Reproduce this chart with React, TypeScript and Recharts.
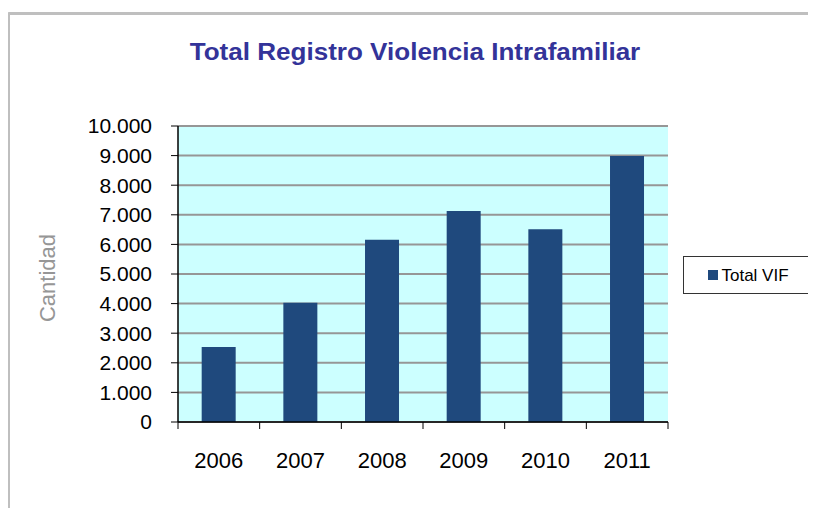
import React from "react";
import { BarChart, Bar, XAxis, YAxis, CartesianGrid } from "recharts";

// Registro VIF por año
const years = ["2006", "2007", "2008", "2009", "2010", "2011"];
const totalVif = [2530, 4030, 6160, 7130, 6510, 8990];
const yTicks = [0, 1000, 2000, 3000, 4000, 5000, 6000, 7000, 8000, 9000, 10000];

const seriesName = "Total VIF";
const title = "Total Registro Violencia Intrafamiliar";
const yLabel = "Cantidad";

const data = years.map((year, i) => ({ year, total: totalVif[i] }));

const FONT = "'Liberation Sans', Arial, sans-serif";
const BAR_COLOR = "#1F497D";
const GRID = "#969696";

const W = 800;
const H = 500;
const PLOT_LEFT = 170;
const PLOT_RIGHT = 660;
const PLOT_W = PLOT_RIGHT - PLOT_LEFT;
const X_TICK_SIZE = 7;
const X_TICK_MARGIN = 23;

const fmt = (v: number) => String(v).replace(/\B(?=(\d{3})+(?!\d))/g, ".");

const XTick = (props: any) => {
  const { x, y, payload, index } = props;
  const band = PLOT_W / years.length;
  const axisY = y - X_TICK_SIZE - X_TICK_MARGIN;
  return (
    <g>
      <line x1={x - band / 2} x2={x - band / 2} y1={axisY} y2={axisY + X_TICK_SIZE} stroke="#000" />
      {index === years.length - 1 && (
        <line x1={x + band / 2} x2={x + band / 2} y1={axisY} y2={axisY + X_TICK_SIZE} stroke="#000" />
      )}
      <text x={x} y={y} dy="0.71em" textAnchor="middle" fontSize={22} fontFamily={FONT} fill="#000">
        {payload.value}
      </text>
    </g>
  );
};

const YLabel = (props: any) => {
  const vb = props.viewBox;
  const cx = 39;
  const cy = vb.y + vb.height / 2 + 4;
  return (
    <text
      x={cx}
      y={cy}
      transform={`rotate(-90 ${cx} ${cy})`}
      textAnchor="middle"
      dominantBaseline="central"
      fontSize={22}
      fontFamily={FONT}
      fill="#969696"
    >
      {yLabel}
    </text>
  );
};

export default function App() {
  return (
    <div style={{ position: "relative", width: W, height: H, fontFamily: FONT }}>
      <div
        style={{
          position: "absolute",
          left: -1,
          top: 4,
          width: 809,
          height: 507,
          boxSizing: "border-box",
          borderLeft: "3px solid #BFBFBF",
          borderTop: "3px solid #BFBFBF",
          borderTopLeftRadius: 3,
        }}
      />
      <div
        style={{
          position: "absolute",
          left: 0,
          top: 32,
          width: 814,
          textAlign: "center",
          fontSize: 24,
          lineHeight: "24px",
          fontWeight: "bold",
          color: "#333399",
          whiteSpace: "nowrap",
          transform: "scaleX(1.085)",
          transformOrigin: "50% 50%",
        }}
      >
        {title}
      </div>

      <div style={{ position: "absolute", left: 0, top: 0 }}>
        <BarChart
          width={W}
          height={H}
          data={data}
          margin={{ top: 118, right: W - PLOT_RIGHT, bottom: 26, left: 0 }}
          barCategoryGap="29%"
        >
          <CartesianGrid
            vertical={false}
            stroke={GRID}
            strokeWidth={2}
            fill="#CCFFFF"
            fillOpacity={1}
          />
          <XAxis
            dataKey="year"
            height={60}
            axisLine={{ stroke: "#000", strokeWidth: 1.5 }}
            tickLine={false}
            tickSize={X_TICK_SIZE}
            tickMargin={X_TICK_MARGIN}
            tick={<XTick />}
            interval={0}
          />
          <YAxis
            width={PLOT_LEFT}
            domain={[0, 10000]}
            ticks={yTicks}
            interval={0}
            tickFormatter={fmt}
            tickSize={7}
            tickMargin={19}
            axisLine={{ stroke: "#000", strokeWidth: 1.5 }}
            tickLine={{ stroke: "#000" }}
            tick={{ fill: "#000", fontSize: 21, fontFamily: FONT }}
            label={<YLabel />}
          />
          <YAxis
            yAxisId="r"
            orientation="right"
            width={0}
            domain={[0, 10000]}
            tick={false}
            tickLine={false}
            axisLine={{ stroke: GRID, strokeWidth: 2 }}
          />
          <Bar dataKey="total" name={seriesName} fill={BAR_COLOR} isAnimationActive={false} />
        </BarChart>
      </div>

      <div
        style={{
          position: "absolute",
          left: 675,
          top: 248,
          width: 131,
          height: 38,
          boxSizing: "border-box",
          border: "1px solid #333",
          background: "#fff",
          display: "flex",
          alignItems: "center",
          justifyContent: "center",
        }}
      >
        <span style={{ width: 10, height: 10, background: BAR_COLOR, marginRight: 3, display: "inline-block" }} />
        <span style={{ fontSize: 17, color: "#000", lineHeight: "17px" }}>{seriesName}</span>
      </div>
    </div>
  );
}
